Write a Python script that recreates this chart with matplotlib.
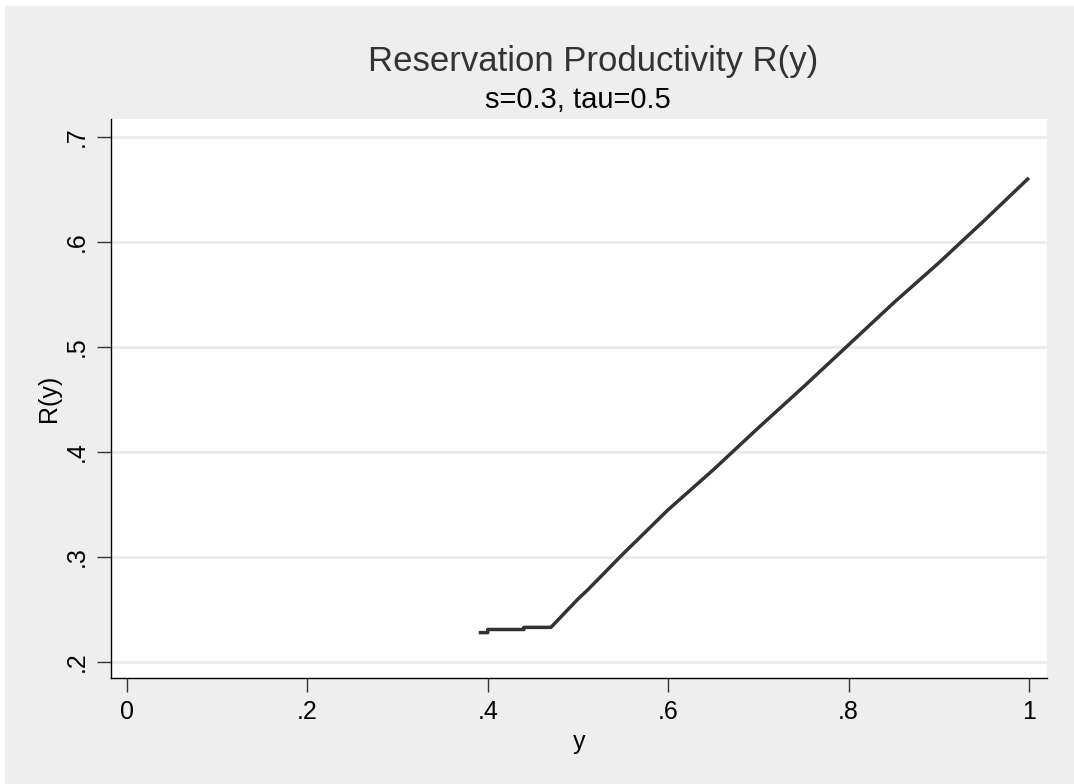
import matplotlib
matplotlib.use("Agg")
import matplotlib.pyplot as plt
from matplotlib.patches import Rectangle

plt.rcParams['font.family'] = ['Liberation Sans', 'DejaVu Sans']

# R(y) 曲线读数
y_vals = [0.39, 0.40, 0.40, 0.44, 0.44, 0.47, 0.50, 0.51, 0.55, 0.60,
          0.65, 0.70, 0.75, 0.80, 0.85, 0.90, 0.95, 1.00]
r_vals = [0.228, 0.228, 0.231, 0.231, 0.233, 0.233, 0.260, 0.268, 0.303, 0.345,
          0.383, 0.423, 0.462, 0.502, 0.542, 0.580, 0.620, 0.661]

x_ticks = [0, 0.2, 0.4, 0.6, 0.8, 1.0]
x_labels = ['0', '.2', '.4', '.6', '.8', '1']
y_ticks = [0.2, 0.3, 0.4, 0.5, 0.6, 0.7]
y_labels = ['.2', '.3', '.4', '.5', '.6', '.7']

W, H = 1074, 784
fig = plt.figure(figsize=(W / 100, H / 100), dpi=100, facecolor='white')
# 灰色背景
fig.patches.append(Rectangle((5 / W, 0), 1, 1 - 6 / H, transform=fig.transFigure,
                             facecolor='#EEEEEE', edgecolor='none', zorder=-1))

ax = fig.add_axes([111 / W, 1 - 678 / H, (1047 - 111) / W, (678 - 119) / H])
ax.set_facecolor('white')
ax.plot(y_vals, r_vals, color='#333333', lw=2.5, solid_capstyle='butt')

ax.set_xlim(-0.0177, 1.020)
ax.set_ylim(0.1848, 0.717)
ax.set_xticks(x_ticks)
ax.set_xticklabels(x_labels)
ax.set_yticks(y_ticks)
ax.set_yticklabels(y_labels, rotation=90, va='center')
ax.tick_params(length=10, width=1, color='#333333', labelsize=18, pad=6)
ax.grid(axis='y', color='#EAEAEA', lw=2)
ax.set_axisbelow(True)
for s in ['top', 'right']:
    ax.spines[s].set_visible(False)
for s in ['left', 'bottom']:
    ax.spines[s].set_color('black')
    ax.spines[s].set_linewidth(1)

ax.set_xlabel('y', fontsize=18, labelpad=4)
ax.set_ylabel('R(y)', fontsize=18, labelpad=3)

fig.text(593 / W, 1 - 61 / H, 'Reservation Productivity R(y)', ha='center', va='center',
         fontsize=25, color='#333333')
fig.text(578 / W, 1 - 100 / H, 's=0.3, tau=0.5', ha='center', va='center',
         fontsize=21, color='black')

fig.savefig('out.png', dpi=100, facecolor=fig.get_facecolor())
